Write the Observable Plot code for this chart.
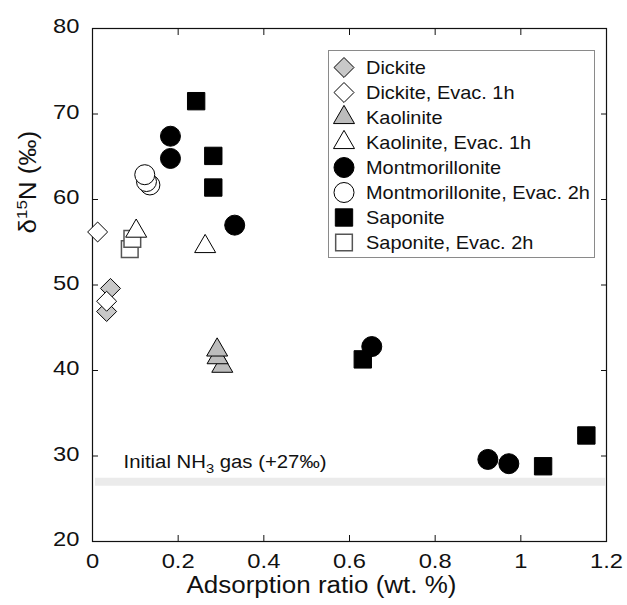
<!DOCTYPE html>
<html><head><meta charset="utf-8">
<script src="https://cdn.jsdelivr.net/npm/d3@7"></script>
<script src="https://cdn.jsdelivr.net/npm/@observablehq/plot@0.6"></script>
<style>
body{margin:0;background:#fff;}
#wrap{position:relative;width:627px;height:605px;font-family:"Liberation Sans",Arial,sans-serif;}
#legend{position:absolute;left:328px;top:50px;width:265px;height:206px;border:1px solid #8a8a8a;background:#fff;}
#legend svg{display:block;}
</style></head><body><div id="wrap"><div id="chart"></div><div id="legend"></div></div>
<script>
// ---- data ----
const seriesNames = ["Dickite", "Dickite, Evac. 1h", "Kaolinite", "Kaolinite, Evac. 1h",
  "Montmorillonite", "Montmorillonite, Evac. 2h", "Saponite", "Saponite, Evac. 2h"];
const dickiteX = [0.042, 0.033];
const dickiteY = [49.6, 46.9];
const dickiteEvacX = [0.012, 0.033];
const dickiteEvacY = [56.2, 48.1];
const kaoliniteX = [0.303, 0.292, 0.291];
const kaoliniteY = [40.5, 41.5, 42.4];
const kaoliniteEvacX = [0.102, 0.263];
const kaoliniteEvacY = [56.3, 54.5];
const montX = [0.182, 0.182, 0.332, 0.652, 0.923, 0.972];
const montY = [67.4, 64.8, 57.0, 42.8, 29.6, 29.1];
const montEvacX = [0.134, 0.126, 0.122];
const montEvacY = [61.7, 62.1, 62.9];
const saponiteX = [0.242, 0.282, 0.282, 0.631, 1.052, 1.153];
const saponiteY = [71.5, 65.1, 61.4, 41.3, 28.8, 32.4];
const saponiteEvacX = [0.087, 0.093];
const saponiteEvacY = [54.2, 55.4];
const initialGas = 27;
const gasLabel = "Initial NH3 gas (+27‰)";
const xTitle = "Adsorption ratio (wt. %)";
const yTitle = "δ15N (‰)";
const xTicks = [0, 0.2, 0.4, 0.6, 0.8, 1, 1.2];
const xTickLabels = ["0", "0.2", "0.4", "0.6", "0.8", "1", "1.2"];
const yTicks = [20, 30, 40, 50, 60, 70, 80];
const yTickLabels = ["20", "30", "40", "50", "60", "70", "80"];

// ---- styles ----
const seriesX = [dickiteX, dickiteEvacX, kaoliniteX, kaoliniteEvacX, montX, montEvacX, saponiteX, saponiteEvacX];
const seriesY = [dickiteY, dickiteEvacY, kaoliniteY, kaoliniteEvacY, montY, montEvacY, saponiteY, saponiteEvacY];
const styles = [
  {symbol: "diamond2", fill: "#c8c8c8", stroke: "#000", strokeWidth: 1, r: 9},
  {symbol: "diamond2", fill: "#fff", stroke: "#000", strokeWidth: 1, r: 9},
  {symbol: "triangle", fill: "#bcbcbc", stroke: "#000", strokeWidth: 1, r: 7.8},
  {symbol: "triangle", fill: "#fff", stroke: "#000", strokeWidth: 1, r: 7.8},
  {symbol: "circle", fill: "#000", stroke: "#000", strokeWidth: 1, r: 10},
  {symbol: "circle", fill: "#fff", stroke: "#000", strokeWidth: 1, r: 10},
  {symbol: "square", fill: "#000", stroke: "#000", strokeWidth: 1, r: 9.8},
  {symbol: "square", fill: "#fff", stroke: "#555", strokeWidth: 1.5, r: 9.4}
];
const drawOrder = [7, 0, 1, 2, 3, 5, 6, 4];
const fontFam = '"Liberation Sans", Arial, Helvetica, sans-serif';

const chart = Plot.plot({
  width: 627, height: 605,
  marginLeft: 92, marginRight: 21, marginTop: 28, marginBottom: 64,
  style: {fontFamily: fontFam, background: "#fff", color: "#000"},
  x: {domain: [0, 1.2]},
  y: {domain: [20, 80]},
  marks: [
    Plot.ruleY([initialGas], {stroke: "#ebebeb", strokeWidth: 8, insetLeft: 3, insetRight: 1}),
    Plot.text([initialGas], {y: d => d, text: () => gasLabel, frameAnchor: "left",
      dx: 31, dy: -19, textAnchor: "start", fontSize: 18, fill: "#111"}),
    Plot.frame({stroke: "#111", strokeWidth: 1.2}),
    Plot.axisX(xTicks, {anchor: "bottom", tickSize: 6, dy: -6, fill: "none", label: null, stroke: "#111"}),
    Plot.axisX(xTicks, {anchor: "top", tickSize: 6, dy: 6, fill: "none", label: null, stroke: "#111"}),
    Plot.axisY(yTicks, {anchor: "left", tickSize: 6, dx: 6, fill: "none", label: null, stroke: "#111"}),
    Plot.axisY(yTicks, {anchor: "right", tickSize: 6, dx: -6, fill: "none", label: null, stroke: "#111"}),
    Plot.axisX(xTicks, {anchor: "bottom", tickSize: 0, tickPadding: 12, fontSize: 21, label: null,
      tickFormat: d => xTickLabels[xTicks.indexOf(d)], fill: "#111"}),
    Plot.axisY(yTicks, {anchor: "left", tickSize: 0, tickPadding: 13, fontSize: 21, label: null, dy: -2,
      tickFormat: d => yTickLabels[yTicks.indexOf(d)], fill: "#111"}),
    Plot.text([xTitle], {text: d => d, frameAnchor: "bottom", dx: -28, dy: 51,
      fontSize: 23, fill: "#111"}),
    Plot.text([yTitle], {text: d => d, frameAnchor: "left", rotate: -90, dx: -63.5, dy: -51.5,
      fontSize: 23, fill: "#111"}),
    ...drawOrder.map(i => Plot.dot(seriesX[i], {x: seriesX[i], y: seriesY[i], ...styles[i]}))
  ]
});

const ns = "http://www.w3.org/2000/svg";
function rich(svg, content, parts) {
  const t = Array.from(svg.querySelectorAll("text")).find(e => e.textContent === content);
  if (!t) return;
  t.textContent = "";
  for (const [s, dy, size] of parts) {
    const ts = document.createElementNS(ns, "tspan");
    ts.textContent = s;
    if (dy) ts.setAttribute("dy", dy);
    if (size) ts.setAttribute("font-size", size);
    t.appendChild(ts);
  }
}
rich(chart, gasLabel, [["Initial NH", 0], ["3", 5, 13], [" gas (+27‰)", -5]]);
rich(chart, yTitle, [["δ", 0], ["15", -9, 15], ["N (‰)", 9]]);

function stretch(svg, k) {
  svg.querySelectorAll("text").forEach(t => {
    const xa = t.getAttribute("x");
    const x = xa != null && !isNaN(+xa) ? +xa : 0;
    if (xa != null && !isNaN(+xa)) t.removeAttribute("x");
    const tr = t.getAttribute("transform") || "";
    t.setAttribute("transform", `${tr} translate(${x},0) scale(${k},1)`);
  });
}
stretch(chart, 1.13);
document.getElementById("chart").appendChild(chart);

const legendPlot = Plot.plot({
  width: 265, height: 206, margin: 0,
  style: {fontFamily: fontFam, background: "transparent", overflow: "visible"},
  y: {type: "point", domain: seriesNames, range: [15.7, 191.7], padding: 0, axis: null},
  marks: [
    ...seriesNames.map((n, i) => Plot.dot([n], {y: d => d, frameAnchor: "left", dx: 14.5, ...styles[i]})),
    Plot.text(seriesNames, {y: d => d, text: d => d, frameAnchor: "left", dx: 36.5, textAnchor: "start",
      fontSize: 19, fill: "#111"})
  ]
});
stretch(legendPlot, 1.05);
document.getElementById("legend").appendChild(legendPlot);
</script></body></html>
